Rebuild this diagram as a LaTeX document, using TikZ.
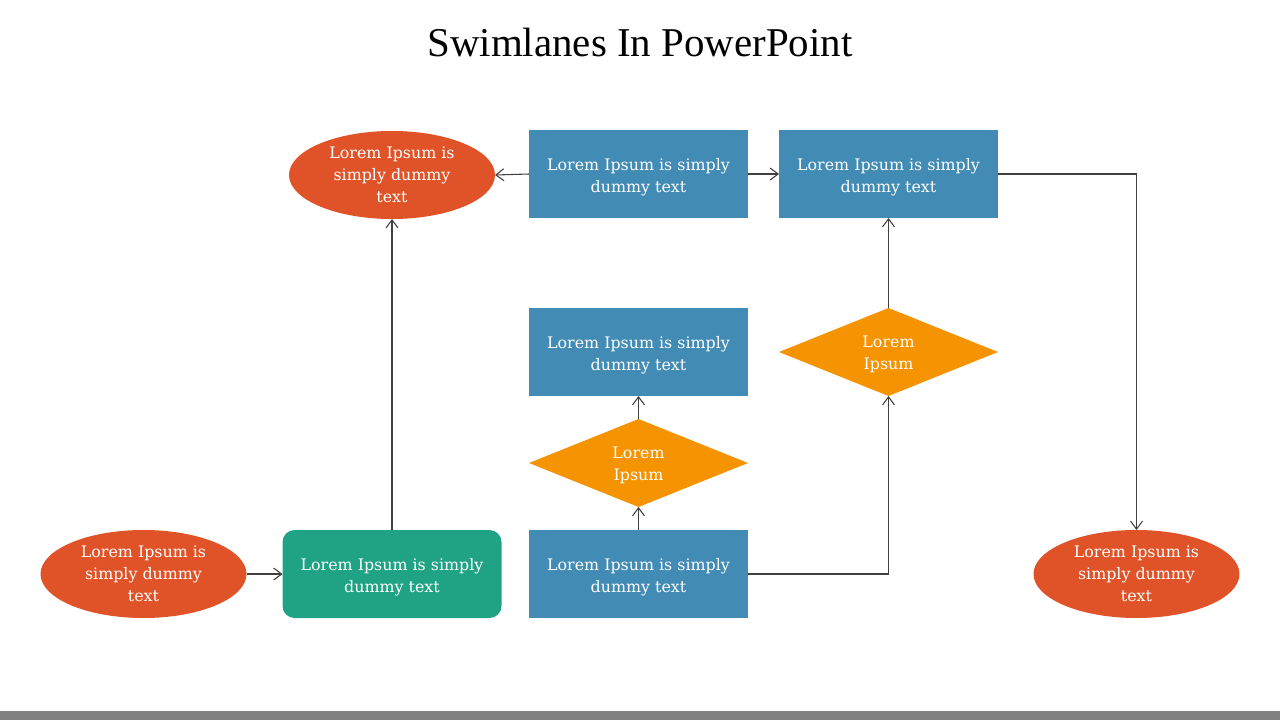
\documentclass[tikz,border=0pt]{standalone}
\usepackage{fontspec}
\setmainfont{Liberation Serif}
\newfontfamily\boxfont{DejaVu Serif}
\usetikzlibrary{shapes.geometric,arrows.meta}
\definecolor{cred}{HTML}{E05328}
\definecolor{cblue}{HTML}{428BB5}
\definecolor{cteal}{HTML}{20A385}
\definecolor{corange}{HTML}{F59300}
\definecolor{cline}{HTML}{404040}
\definecolor{cbar}{HTML}{808080}
\newcommand\mytxt[2]{\raisebox{-#1}[\height][\depth]{\begin{tabular}{@{}c@{}}#2\end{tabular}}}
\tikzset{
  base/.style={draw=none,text=white,font=\boxfont\fontsize{11.9}{16.5}\selectfont,inner sep=0pt,outer sep=0pt},
  oval/.style={base,ellipse,inner ysep=-2.5pt,fill=cred,minimum width=154.5pt,minimum height=66pt},
  bluebox/.style={base,rectangle,fill=cblue,minimum width=164.25pt,minimum height=66pt},
  tealbox/.style={base,rectangle,rounded corners=9pt,fill=cteal,minimum width=164.25pt,minimum height=66pt},
  dia/.style={base,diamond,aspect=2.49,fill=corange,minimum width=164.25pt,minimum height=66pt},
  conn/.style={draw=cline,line width=0.8pt,-{Straight Barb[length=6pt,width=9pt,line width=0.8pt]}}
}
\begin{document}
\begin{tikzpicture}[x=0.75pt,y=-0.75pt]
\useasboundingbox (0,0) rectangle (1280,720);
\fill[cbar] (0,711) rectangle (1280,720);
\node[font=\fontsize{30.7}{34}\selectfont] (title) at (640,43) {Swimlanes In PowerPoint};
\node[oval] (e1) at (392,175) {\mytxt{0.75pt}{Lorem Ipsum is\\simply dummy\\text}};
\node[bluebox] (b1) at (638.5,174) {\mytxt{2.25pt}{Lorem Ipsum is simply\\dummy text}};
\node[bluebox] (b2) at (888.5,174) {\mytxt{2.25pt}{Lorem Ipsum is simply\\dummy text}};
\node[bluebox] (b3) at (638.5,352) {\mytxt{2.25pt}{Lorem Ipsum is simply\\dummy text}};
\node[dia] (d2) at (888.5,352) {\mytxt{1.5pt}{Lorem\\Ipsum}};
\node[dia] (d1) at (638.5,463) {\mytxt{1.5pt}{Lorem\\Ipsum}};
\node[bluebox] (b4) at (638.5,574) {\mytxt{2.25pt}{Lorem Ipsum is simply\\dummy text}};
\node[tealbox] (t1) at (392,574) {\mytxt{2.25pt}{Lorem Ipsum is simply\\dummy text}};
\node[oval] (e2) at (143.5,574) {\mytxt{0.75pt}{Lorem Ipsum is\\simply dummy\\text}};
\node[oval] (e3) at (1136.5,574) {\mytxt{0.75pt}{Lorem Ipsum is\\simply dummy\\text}};
\draw[conn] (b1.west) -- (e1.east);
\draw[conn] (b1.east) -- (b2.west);
\draw[conn] (b2.east) -| (e3.north);
\draw[conn] (e2.east) -- (t1.west);
\draw[conn] (t1.north) -- (e1.south);
\draw[conn] (b4.north) -- (d1.south);
\draw[conn] (d1.north) -- (b3.south);
\draw[conn] (b4.east) -| (d2.south);
\draw[conn] (d2.north) -- (b2.south);
\end{tikzpicture}
\end{document}
